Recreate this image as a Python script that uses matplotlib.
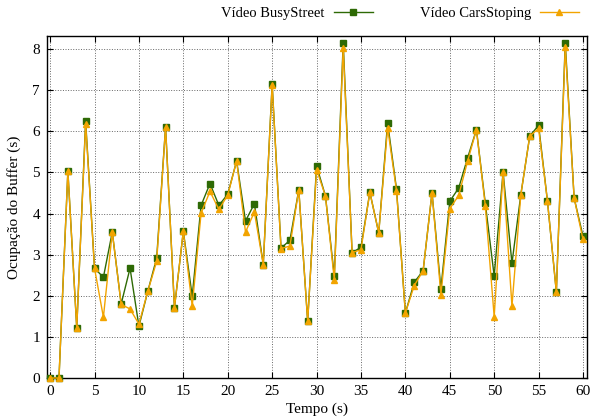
import matplotlib
matplotlib.use("Agg")
import matplotlib.pyplot as plt

# dados
tempo = list(range(61))

busy_street = [0.0, 0.0, 5.03, 1.22, 6.25, 2.67, 2.45, 3.55, 1.80, 2.67,
               1.26, 2.11, 2.92, 6.11, 1.71, 3.57, 1.99, 4.20, 4.73, 4.20,
               4.47, 5.28, 3.82, 4.24, 2.76, 7.15, 3.16, 3.35, 4.58, 1.38,
               5.16, 4.43, 2.48, 8.16, 3.05, 3.18, 4.52, 3.53, 6.21, 4.60,
               1.58, 2.33, 2.61, 4.51, 2.17, 4.30, 4.62, 5.35, 6.04, 4.25,
               2.48, 5.01, 2.79, 4.46, 5.88, 6.15, 4.30, 2.09, 8.16, 4.38,
               3.45]

cars_stoping = [0.0, 0.0, 5.03, 1.22, 6.19, 2.67, 1.48, 3.55, 1.79, 1.68,
                1.31, 2.11, 2.84, 6.10, 1.71, 3.57, 1.75, 4.01, 4.54, 4.10,
                4.45, 5.28, 3.55, 4.04, 2.76, 7.13, 3.15, 3.21, 4.58, 1.38,
                5.07, 4.43, 2.39, 8.04, 3.05, 3.12, 4.52, 3.53, 6.09, 4.56,
                1.58, 2.25, 2.61, 4.51, 2.03, 4.12, 4.44, 5.27, 6.04, 4.19,
                1.49, 5.01, 1.75, 4.46, 5.88, 6.07, 4.30, 2.09, 8.06, 4.38,
                3.37]

xticks = list(range(0, 61, 5))
yticks = list(range(0, 9))

plt.rcParams['font.family'] = ['Liberation Serif', 'DejaVu Serif']
plt.rcParams['font.size'] = 11

fig = plt.figure(figsize=(5.94, 4.17), dpi=100)
ax = fig.add_axes([47 / 594, 1 - 378 / 417, (587 - 47) / 594, (378 - 36) / 417])

verde = '#2e6a05'
laranja = '#f2a400'

ax.plot(tempo, busy_street, '-s', color=verde, linewidth=1.0,
        markersize=4.5, label='Vídeo BusyStreet', clip_on=False, zorder=3)
ax.plot(tempo, cars_stoping, '-^', color=laranja, linewidth=1.0,
        markersize=4.5, label='Vídeo CarsStoping', clip_on=False, zorder=4)

ax.set_xlim(-0.35, 60.45)
ax.set_ylim(0, 8.32)
ax.set_xticks(xticks)
ax.set_yticks(yticks)

ax.grid(True, linestyle=':', color='#666666', linewidth=0.7)
ax.tick_params(direction='in', top=True, right=True, length=4, width=0.8,
               pad=5)
for s in ax.spines.values():
    s.set_linewidth(1.0)

ax.set_xlabel('Tempo (s)', labelpad=3)
ax.set_ylabel('Ocupação do Buffer (s)', labelpad=8)

fig.legend(loc='center right', bbox_to_anchor=(579 / 594, 1 - 13 / 417),
           ncol=2, frameon=False, markerfirst=False, borderpad=0,
           borderaxespad=0, handlelength=2.7, handletextpad=0.6,
           columnspacing=3.2, fontsize=10.5)

fig.savefig('out.png', dpi=100)
